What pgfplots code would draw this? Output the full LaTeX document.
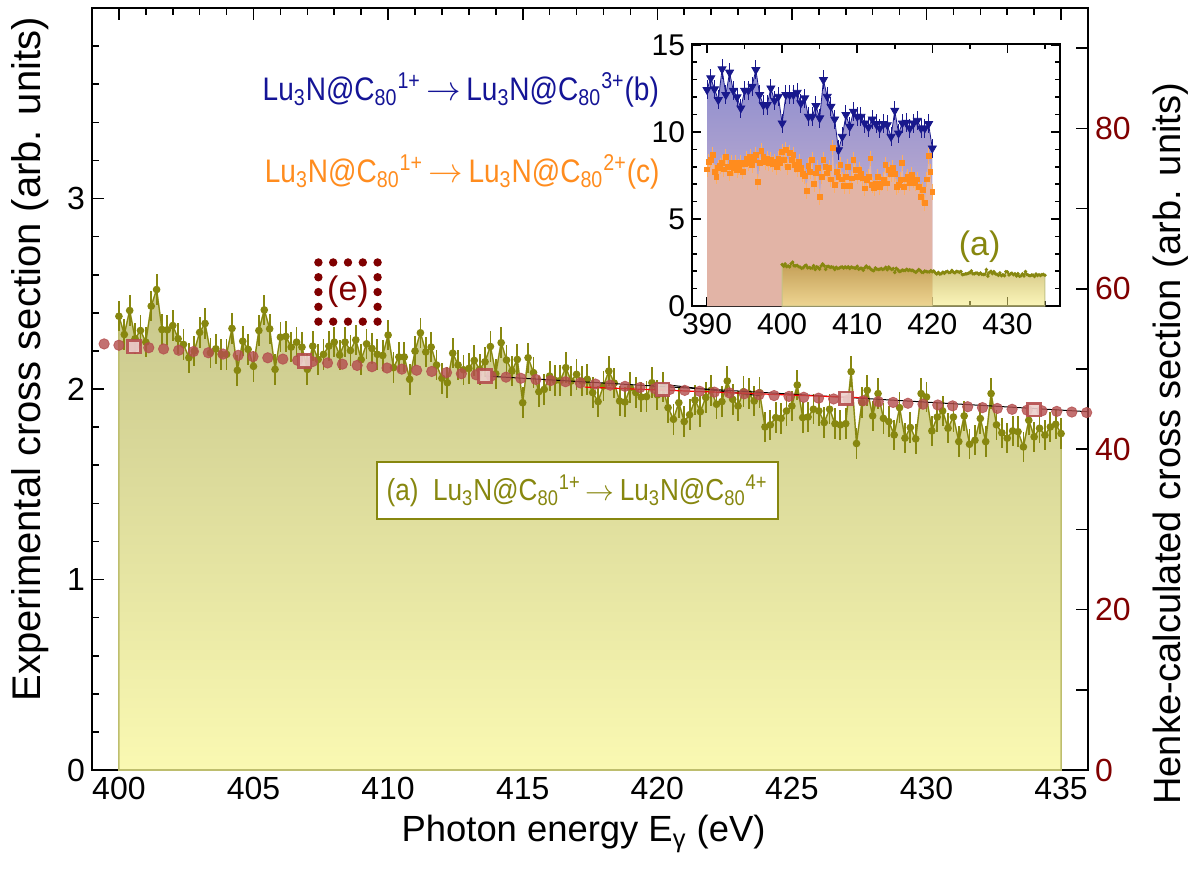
\documentclass[border=0pt]{standalone}
\usepackage{pgfplots}
\pgfplotsset{compat=1.18}
\usepackage{pgfplotstable}
\usepackage{fontspec}
\setmainfont{Liberation Sans}
\newfontfamily\narrowfont{Liberation Sans}[FakeStretch=0.86]
\definecolor{olv}{RGB}{135,135,15}
\definecolor{olvfill}{RGB}{190,190,110}
\definecolor{filltop}{RGB}{200,199,140}
\definecolor{fillbot}{RGB}{250,249,178}
\definecolor{darkred}{RGB}{128,0,0}
\definecolor{henke}{RGB}{180,78,78}
\definecolor{henkesqfill}{RGB}{236,208,204}
\definecolor{bblue}{RGB}{24,24,140}
\definecolor{btext}{RGB}{20,20,150}
\definecolor{corange}{RGB}{255,140,30}
\definecolor{btop}{RGB}{140,140,208}
\definecolor{bbot}{RGB}{225,195,205}
\definecolor{csalmon}{RGB}{226,180,166}
\definecolor{atop}{RGB}{170,140,20}
\definecolor{abot}{RGB}{248,240,130}

\pgfplotstableread{
x y
400.0 2.382
400.2 2.286
400.4 2.412
400.6 2.264
400.8 2.307
401.0 2.246
401.2 2.435
401.4 2.522
401.6 2.312
401.8 2.311
402.0 2.333
402.2 2.264
402.4 2.234
402.6 2.164
402.8 2.199
403.0 2.297
403.2 2.344
403.4 2.190
403.6 2.211
403.8 2.182
404.0 2.182
404.2 2.318
404.4 2.098
404.6 2.251
404.8 2.208
405.0 2.119
405.2 2.307
405.4 2.415
405.6 2.316
405.8 2.103
406.0 2.272
406.2 2.276
406.4 2.220
406.6 2.246
406.8 2.220
407.0 2.103
407.2 2.225
407.4 2.155
407.6 2.182
407.8 2.225
408.0 2.246
408.2 2.178
408.4 2.246
408.6 2.202
408.8 2.258
409.0 2.154
409.2 2.237
409.4 2.213
409.6 2.182
409.8 2.176
410.0 2.283
410.2 2.112
410.4 2.168
410.6 2.168
410.8 2.051
411.0 2.199
411.2 2.295
411.4 2.195
411.6 2.220
411.8 2.126
412.0 2.056
412.2 2.033
412.4 2.188
412.6 2.126
412.8 2.101
413.0 2.108
413.2 2.150
413.4 2.103
413.6 2.143
413.8 2.223
414.0 2.080
414.2 2.243
414.4 2.152
414.6 2.094
414.8 2.155
415.0 1.928
415.2 2.164
415.4 2.086
415.6 1.986
415.8 1.998
416.0 2.068
416.2 2.045
416.4 2.045
416.6 2.112
416.8 2.042
417.0 2.077
417.2 2.042
417.4 2.051
417.6 1.981
417.8 1.934
418.0 2.016
418.2 2.094
418.4 2.031
418.6 1.937
418.8 1.932
419.0 2.007
419.2 1.981
419.4 1.958
419.6 1.960
419.8 2.033
420.0 1.969
420.2 2.010
420.4 1.902
420.6 1.841
420.8 1.928
421.0 1.829
421.2 1.865
421.4 1.942
421.6 1.881
421.8 1.955
422.0 1.993
422.2 1.920
422.4 1.934
422.6 2.042
422.8 1.946
423.0 1.911
423.2 1.986
423.4 1.976
423.6 1.937
423.8 1.981
424.0 1.801
424.2 1.812
424.4 1.850
424.6 1.846
424.8 1.885
425.0 1.911
425.2 2.021
425.4 1.850
425.6 1.853
425.8 1.894
426.0 1.885
426.2 1.824
426.4 1.894
426.6 1.818
426.8 1.812
427.0 1.818
427.2 2.091
427.4 1.714
427.6 1.928
427.8 1.993
428.0 1.859
428.2 1.976
428.4 1.846
428.6 1.829
428.8 1.759
429.0 1.902
429.2 1.742
429.4 1.798
429.6 1.738
429.8 1.976
430.0 1.958
430.2 1.780
430.4 1.853
430.6 1.885
430.8 1.794
431.0 1.853
431.2 1.724
431.4 1.859
431.6 1.710
431.8 1.731
432.0 1.845
432.2 1.724
432.4 1.976
432.6 1.812
432.8 1.770
433.0 1.742
433.2 1.780
433.4 1.776
433.6 1.696
433.8 1.836
434.0 1.749
434.2 1.794
434.4 1.758
434.6 1.801
434.8 1.815
435.0 1.766
}\dataA

\pgfplotstableread{
x y
399.45 53.12
400.00 52.96
400.55 52.81
401.11 52.65
401.66 52.49
402.22 52.33
402.77 52.17
403.32 52.02
403.87 51.86
404.43 51.70
404.98 51.54
405.53 51.39
406.09 51.23
406.64 51.07
407.19 50.91
407.75 50.75
408.30 50.60
408.85 50.44
409.40 50.28
409.96 50.12
410.51 49.98
411.06 49.84
411.62 49.69
412.17 49.55
412.72 49.41
413.27 49.27
413.83 49.12
414.38 48.98
414.93 48.84
415.49 48.69
416.04 48.55
416.59 48.41
417.14 48.26
417.70 48.12
418.25 47.98
418.80 47.83
419.36 47.69
419.91 47.55
420.46 47.44
421.02 47.33
421.57 47.22
422.12 47.11
422.68 47.01
423.23 46.90
423.78 46.79
424.34 46.68
424.89 46.58
425.44 46.47
425.99 46.36
426.55 46.26
427.10 46.15
427.65 46.04
428.21 45.93
428.76 45.83
429.31 45.72
429.87 45.61
430.42 45.51
430.97 45.40
431.53 45.29
432.08 45.18
432.63 45.08
433.18 44.97
433.74 44.86
434.29 44.78
434.84 44.71
435.40 44.63
435.95 44.56
}\henkeC

\pgfplotstableread{
x y
400.55 52.78
406.90 50.99
413.60 49.12
420.20 47.45
427.00 46.34
434.00 44.94
}\henkeS

\pgfplotstableread{
x y
390.0 12.42
390.5 13.09
391.0 12.46
391.5 11.84
392.0 13.61
392.5 12.13
393.0 13.42
393.5 12.38
394.0 12.00
394.5 11.36
395.0 12.38
395.5 12.38
396.0 12.61
396.5 13.57
397.0 12.13
397.5 11.55
398.0 11.55
398.5 12.51
399.0 11.80
399.5 12.03
400.0 10.50
400.5 12.13
401.0 12.13
401.5 12.13
402.0 12.26
402.5 11.65
403.0 11.94
403.5 10.88
404.0 10.88
404.5 11.50
405.0 10.79
405.5 12.99
406.0 12.03
406.5 11.46
407.0 10.73
407.5 8.96
408.0 9.73
408.5 10.98
409.0 10.31
409.5 11.17
410.0 10.88
410.5 10.88
411.0 10.50
411.5 10.27
412.0 10.73
412.5 10.46
413.0 10.21
413.5 10.46
414.0 10.40
414.5 9.73
415.0 11.23
415.5 9.92
416.0 10.50
416.5 10.54
417.0 10.21
417.5 10.50
418.0 10.65
418.5 10.21
419.0 10.21
419.5 10.46
420.0 9.06
}\dataB

\pgfplotstableread{
x y
390.00 7.85
390.25 8.29
390.50 8.39
390.75 8.68
391.00 7.72
391.25 7.43
391.50 7.91
391.75 8.04
392.00 8.23
392.25 7.85
392.50 8.58
392.75 8.00
393.00 7.62
393.25 8.20
393.50 7.91
393.75 8.23
394.00 7.81
394.25 8.00
394.50 8.23
394.75 7.72
395.00 8.16
395.25 8.43
395.50 8.23
395.75 8.58
396.00 8.10
396.25 8.39
396.50 8.68
396.75 7.14
397.00 8.20
397.25 8.93
397.50 8.58
397.75 8.29
398.00 8.43
398.25 8.20
398.50 8.39
398.75 8.16
399.00 8.29
399.25 8.00
399.50 8.48
399.75 8.20
400.00 8.87
400.25 8.39
400.50 8.96
400.75 8.00
401.00 8.81
401.25 8.39
401.50 8.68
401.75 8.10
402.00 7.85
402.25 8.29
402.50 7.91
402.75 7.58
403.00 7.47
403.25 6.62
403.50 8.04
403.75 7.72
404.00 8.39
404.25 7.01
404.50 7.62
404.75 7.91
405.00 6.28
405.25 7.43
405.50 8.39
405.75 8.00
406.00 7.62
406.25 7.91
406.50 7.27
406.75 9.10
407.00 6.95
407.25 7.72
407.50 7.43
407.75 8.10
408.00 7.27
408.25 6.89
408.50 7.43
408.75 8.00
409.00 6.89
409.25 7.33
409.50 8.39
409.75 7.81
410.00 7.43
410.25 7.85
410.50 7.58
410.75 7.33
411.00 6.76
411.25 7.24
411.50 7.43
411.75 8.48
412.00 6.95
412.25 6.76
412.50 7.04
412.75 7.43
413.00 6.85
413.25 7.04
413.50 7.27
413.75 8.10
414.00 7.04
414.25 7.81
414.50 7.58
414.75 7.91
415.00 7.58
415.25 6.85
415.50 6.95
415.75 7.24
416.00 8.20
416.25 6.85
416.50 7.27
416.75 7.43
417.00 7.08
417.25 7.52
417.50 7.24
417.75 7.08
418.00 7.27
418.25 6.85
418.50 6.28
418.75 6.66
419.00 5.93
419.25 7.27
419.50 8.62
419.75 7.72
420.00 6.56
}\dataC

\newcommand{\LuN}{Lu\textsubscript{3}N@C\textsubscript{80}}

\begin{document}
\begin{tikzpicture}
\useasboundingbox (-46pt,-52pt) rectangle (552.5pt,385pt);
% ---------------- main axis (left scale) ----------------
\begin{axis}[
  scale only axis, width=498pt, height=381pt,
  xmin=399, xmax=436, ymin=0, ymax=4,
  xtick={400,405,...,435}, minor xtick={399,...,436},
  ytick={0,1,2,3}, minor ytick={0.2,0.4,...,3.9},
  ytick pos=left, xtick pos=both, xticklabel pos=lower,
  tick align=inside,
  major tick length=6pt, minor tick length=3.5pt,
  every tick/.style={black, line width=0.8pt},
  axis line style={line width=1pt},
  /pgf/number format/assume math mode=true,
  ticklabel style={font=\fontsize{16}{16}\selectfont},
  xlabel={Photon energy E\textsubscript{γ} (eV)},
  ylabel={Experimental cross section (arb. units)},
  xlabel style={font=\fontsize{18.2}{18.2}\selectfont, at={(axis description cs:0.4935,-0.084)}, anchor=center},
  ylabel style={font=\fontsize{20}{20}\selectfont, at={(axis description cs:-0.0625,0.539)}, anchor=center},
]
\addplot[draw=olvfill, line width=0.8pt, top color=filltop, bottom color=fillbot] table[x=x,y=y]{\dataA} \closedcycle;
\addplot[olv, line width=0.6pt, mark=*, mark size=1.6pt,
  error bars/.cd, y dir=both, y fixed=0.08,
  error bar style={olv, line width=0.9pt}, error mark=none]
  table[x=x,y=y]{\dataA};
\node[draw=olv, line width=1pt, fill=white, text=olv,
  minimum width=200.5pt, minimum height=28.5pt, inner sep=1pt,
  font=\narrowfont\fontsize{15.2}{15.2}\selectfont]
  at (axis cs:417.02,1.466) {(a)~~\LuN\textsuperscript{1+}\,$\rightarrow$\,\LuN\textsuperscript{4+}};
\node[text=btext, font=\narrowfont\fontsize{16.3}{16.3}\selectfont] at (axis cs:412.7,3.57)
  {\LuN\textsuperscript{1+}\,$\rightarrow$\,\LuN\textsuperscript{3+}(b)};
\node[text=corange, font=\narrowfont\fontsize{16.3}{16.3}\selectfont] at (axis cs:412.75,3.14)
  {\LuN\textsuperscript{1+}\,$\rightarrow$\,\LuN\textsuperscript{2+}(c)};
\node[draw=darkred, line width=4.2pt, line cap=round, dash pattern=on 0pt off 7.4pt,
  minimum width=29.6pt, minimum height=29.6pt, inner sep=0pt, text=darkred,
  font=\fontsize{17}{17}\selectfont] at (axis cs:408.51,2.509) {(e)};
\end{axis}
% ---------------- right axis (Henke) ----------------
\begin{axis}[
  scale only axis, width=498pt, height=381pt,
  xmin=399, xmax=436, ymin=0, ymax=95,
  axis x line=none, axis y line*=right,
  ytick={0,20,...,80}, minor ytick={10,30,...,90},
  tick align=inside,
  major tick length=6pt, minor tick length=6pt,
  every tick/.style={black, line width=0.8pt},
  axis line style={line width=1pt},
  /pgf/number format/assume math mode=true,
  yticklabel style={font=\fontsize{16}{16}\selectfont, text=darkred},
  ylabel style={font=\fontsize{19}{19}\selectfont, at={(axis description cs:1.0833,0.428)}, anchor=center},
  ylabel={Henke-calculated cross section (arb. units)},
]
\addplot[only marks, mark=*, mark size=2.6pt, color=henke, opacity=0.8] table[x=x,y=y]{\henkeC};
\addplot[black, line width=0.5pt] coordinates {(413.6,49.12) (436,44.67)};
\addplot[black, line width=0.5pt] coordinates {(419.9,48.21) (423.8,46.67)};
\addplot[red, line width=0.6pt] coordinates {(417.3,47.74) (427.8,46.38)};
\addplot[only marks, mark=square*, mark size=3.2pt,
  mark options={draw=henke, fill=henkesqfill, line width=1.4pt, opacity=0.9}] table[x=x,y=y]{\henkeS};
\end{axis}
% ---------------- inset ----------------
\begin{axis}[
  at={(300pt,232pt)}, anchor=south west,
  scale only axis, width=184pt, height=131pt,
  xmin=388, xmax=437, ymin=0, ymax=15.05,
  xtick={390,400,...,430}, minor xtick={395,405,...,435},
  ytick={0,5,10,15}, minor ytick={1,...,14},
  tick align=inside,
  major tick length=4.5pt, minor tick length=2.5pt,
  every tick/.style={black, line width=0.8pt},
  axis line style={line width=1pt},
  axis background/.style={fill=white},
  /pgf/number format/assume math mode=true,
  ticklabel style={font=\fontsize{15}{15}\selectfont},
]
\addplot[draw=none, top color=btop, bottom color=bbot] table[x=x,y=y]{\dataB} \closedcycle;
\addplot[draw=none, fill=csalmon] table[x=x,y=y]{\dataC} \closedcycle;
\addplot[draw=olv!50, line width=0.5pt, top color=atop, bottom color=abot, fill opacity=0.55] table[x=x,y=y]{\dataA} \closedcycle;
\addplot[bblue, line width=0.4pt, mark=triangle*, mark size=2.3pt, mark options={rotate=180},
  error bars/.cd, y dir=both, y fixed=0.55,
  error bar style={bblue, line width=0.5pt}, error mark=none]
  table[x=x,y=y]{\dataB};
\addplot[only marks, corange, mark=square*, mark size=1.2pt,
  error bars/.cd, y dir=both, y fixed=0.45,
  error bar style={corange!70, line width=0.5pt}, error mark=none]
  table[x=x,y=y]{\dataC};
\addplot[olv, line width=0.5pt, mark=*, mark size=0.6pt] table[x=x,y=y]{\dataA};
\node[text=olv, font=\fontsize{17}{17}\selectfont] at (axis cs:426.3,3.4) {(a)};
\end{axis}
\end{tikzpicture}
\end{document}
